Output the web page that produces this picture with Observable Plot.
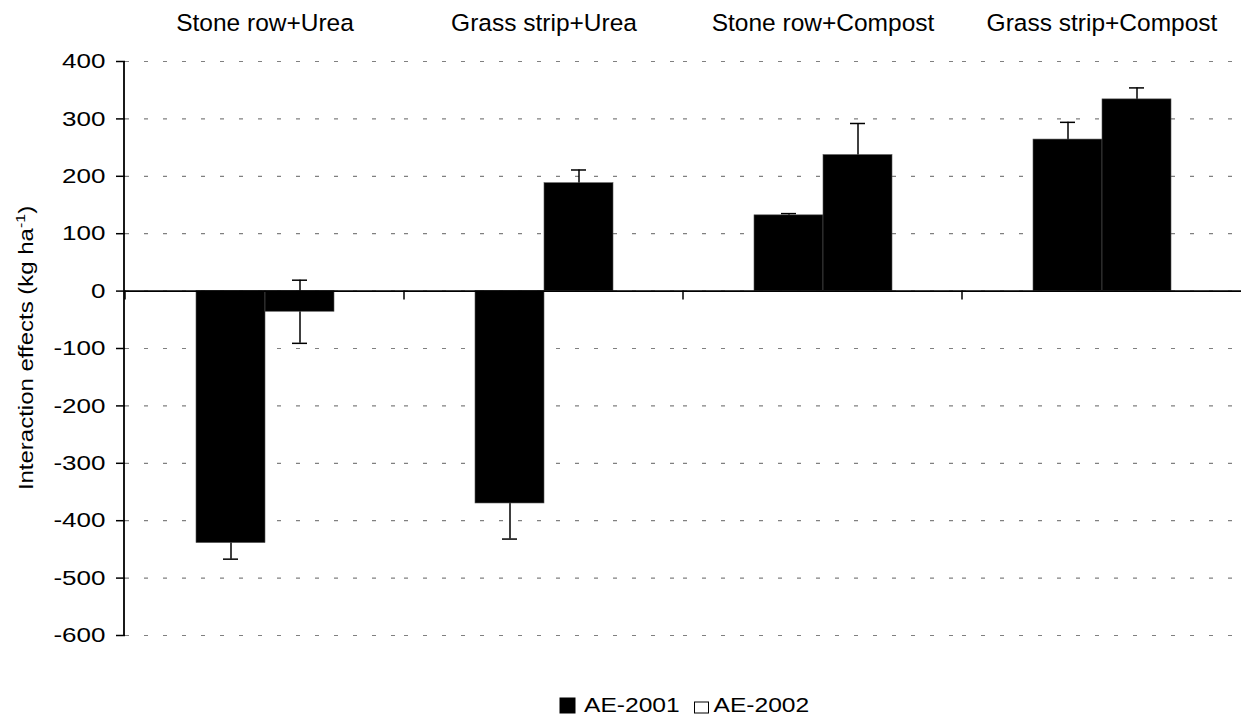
<!DOCTYPE html>
<html>
<head>
<meta charset="utf-8">
<script src="https://cdn.jsdelivr.net/npm/d3@7"></script>
<script src="https://cdn.jsdelivr.net/npm/@observablehq/plot@0.6"></script>
<style>
  html, body { margin: 0; padding: 0; background: #fff; }
  body { width: 1241px; height: 717px; overflow: hidden; font-family: "Liberation Sans", Arial, sans-serif; }
  #chart svg, #legend svg { display: block; }
</style>
</head>
<body>
<div id="chart"></div>
<div id="legend"></div>
<script>
const categories = ["Stone row+Urea", "Grass strip+Urea", "Stone row+Compost", "Grass strip+Compost"];
const seriesNames = ["AE-2001", "AE-2002"];
const ae2001 = [-439, -370, 132, 264];
const ae2002 = [-36, 188, 237, 334];
const err2001 = [28, 62, 3, 30];
const err2002 = [55, 23, 55, 20];
const yTicks = [-600, -500, -400, -300, -200, -100, 0, 100, 200, 300, 400];
const seriesFill = {"AE-2001": "#000", "AE-2002": "#fff"};

const data = [];
categories.forEach((c, i) => {
  data.push({cat: c, series: seriesNames[0], value: ae2001[i], err: err2001[i]});
  data.push({cat: c, series: seriesNames[1], value: ae2002[i], err: err2002[i]});
});

// short downward tick on the zero line at the left edge of every category cell
function boundaryTicks(index, scales, values, dims) {
  const y0 = scales.y(0);
  const g = d3.create("svg:g");
  g.append("line")
    .attr("x1", dims.marginLeft).attr("x2", dims.marginLeft)
    .attr("y1", y0).attr("y2", y0 + 9)
    .attr("stroke", "#000").attr("stroke-width", 1.5);
  return g.node();
}

const FONT = "'Liberation Sans', Arial, sans-serif";
const chart = Plot.plot({
  width: 1241,
  height: 685,
  marginTop: 61,
  marginBottom: 50,
  marginLeft: 124,
  marginRight: 0,
  style: {fontFamily: FONT, fontSize: "20px", color: "#000", background: "#fff"},
  fx: {domain: categories, padding: 0, label: null},
  x: {domain: seriesNames, paddingInner: 0, paddingOuter: 1, axis: null},
  y: {domain: [-600, 400], label: null},
  marks: [
    Plot.gridY(yTicks, {stroke: "#808080", strokeOpacity: 1, strokeDasharray: "4,15", strokeWidth: 1.2}),
    Plot.axisFx({anchor: "top", tickSize: 0, tickPadding: 31, fontSize: 24.5, label: null}),
    Plot.axisY(yTicks, {tickSize: 9, tickPadding: 11, fontSize: 21, label: null, strokeWidth: 1.5, tickFormat: d => String(d)}),
    Plot.ruleX(data, {fx: "cat", x: "series", y1: d => d.value - d.err, y2: d => d.value + d.err, stroke: "#000", strokeWidth: 1.5}),
    Plot.tickY(data, {fx: "cat", x: "series", y: d => d.value + d.err, stroke: "#000", strokeWidth: 1.5, insetLeft: 27, insetRight: 27}),
    Plot.tickY(data, {fx: "cat", x: "series", y: d => d.value - d.err, stroke: "#000", strokeWidth: 1.5, insetLeft: 27, insetRight: 27}),
    Plot.barY(data, {fx: "cat", x: "series", y: "value", fill: "#000", stroke: "#555", strokeWidth: 0.6}),
    Plot.ruleY([0], {stroke: "#000", strokeWidth: 1.6}),
    boundaryTicks
  ]
});
document.getElementById("chart").appendChild(chart);

const svg = d3.select(chart);

// widen the y tick labels horizontally around their anchor
function stretch(sel, sx) {
  sel.each(function() {
    const el = this;
    const tr = el.getAttribute("transform");
    if (tr) {
      el.setAttribute("transform", tr + ` scale(${sx},1)`);
    } else {
      const x = +el.getAttribute("x") || 0, y = +el.getAttribute("y") || 0;
      el.removeAttribute("x"); el.removeAttribute("y");
      el.setAttribute("transform", `translate(${x},${y}) scale(${sx},1)`);
    }
  });
}
stretch(svg.selectAll('g[aria-label="y-axis tick label"] text'), 1.24);

// y-axis line and title
const ys = chart.scale("y");
svg.append("line")
  .attr("x1", 124).attr("x2", 124)
  .attr("y1", ys.apply(400)).attr("y2", ys.apply(-600))
  .attr("stroke", "#000").attr("stroke-width", 1.8);
const yMid = (ys.apply(400) + ys.apply(-600)) / 2;
const t = svg.append("text")
  .attr("transform", `translate(33,${yMid}) rotate(-90) scale(1.23,1)`)
  .attr("text-anchor", "middle")
  .attr("font-family", FONT)
  .attr("font-size", 19.5)
  .attr("fill", "#000");
t.append("tspan").text("Interaction effects (kg ha");
t.append("tspan").attr("font-size", 13).attr("dy", -8).text("-1");
t.append("tspan").attr("dy", 8).text(")");

// legend below the plot
const lg = d3.select("#legend").append("svg")
  .attr("width", 1241).attr("height", 32)
  .attr("font-family", FONT).attr("font-size", 20);
const legendLayout = [
  {s: seriesNames[0], box: [560, 13, 15, 15], tx: 584},
  {s: seriesNames[1], box: [694.5, 17, 14, 11], tx: 713.5}
];
legendLayout.forEach(({s, box, tx}) => {
  lg.append("rect").attr("x", box[0]).attr("y", box[1]).attr("width", box[2]).attr("height", box[3])
    .attr("fill", seriesFill[s]).attr("stroke", "#000").attr("stroke-width", 1);
  lg.append("text").attr("transform", `translate(${tx},27) scale(1.23,1)`).attr("fill", "#000").text(s);
});
</script>
</body>
</html>
